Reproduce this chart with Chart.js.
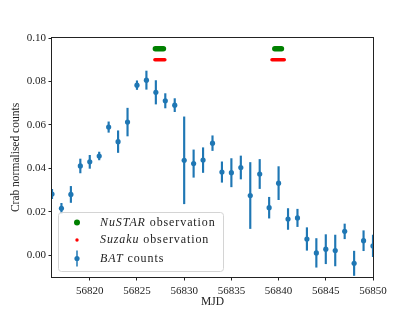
<!DOCTYPE html>
<html>
<head>
<meta charset="utf-8">
<script src="https://cdn.jsdelivr.net/npm/chart.js@4.4.1/dist/chart.umd.min.js"></script>
<style>
  body { margin: 0; background: #fff; }
  canvas { display: block; }
</style>
</head>
<body>
<canvas id="chart" width="415" height="312"></canvas>
<script>
// BAT daily light curve (Crab normalised)
const mjd = [56816, 56817, 56818, 56819, 56820, 56821, 56822, 56823, 56824, 56825,
             56826, 56827, 56828, 56829, 56830, 56831, 56832, 56833, 56834, 56835,
             56836, 56837, 56838, 56839, 56840, 56841, 56842, 56843, 56844, 56845,
             56846, 56847, 56848, 56849, 56850];
const counts = [0.0282, 0.0216, 0.0280, 0.0411, 0.0430, 0.0457, 0.0590, 0.0523, 0.0613, 0.0783,
                0.0806, 0.0750, 0.0711, 0.0691, 0.0437, 0.0422, 0.0438, 0.0516, 0.0383, 0.0380,
                0.0404, 0.0275, 0.0374, 0.0219, 0.0332, 0.0167, 0.0172, 0.0075, 0.0011, 0.0028,
                0.0022, 0.0110, -0.0037, 0.0067, 0.0043];
const countErr = [0.0022, 0.0023, 0.0037, 0.0032, 0.0030, 0.0018, 0.0024, 0.0050, 0.0064, 0.0020,
                  0.0042, 0.0054, 0.0033, 0.0030, 0.0200, 0.0063, 0.0057, 0.0034, 0.0047, 0.0065,
                  0.0053, 0.0152, 0.0067, 0.0048, 0.0076, 0.0048, 0.0040, 0.0052, 0.0066, 0.0067,
                  0.0071, 0.0034, 0.0056, 0.0046, 0.0050];

// observation windows
const nustarStart = [56826.95, 56839.6];
const nustarEnd = [56827.8, 56840.3];
const nustarLevel = 0.095;
const suzakuStart = [56826.9, 56839.3];
const suzakuEnd = [56827.95, 56840.6];
const suzakuLevel = 0.09;

const xTicks = [56820, 56825, 56830, 56835, 56840, 56845, 56850];
const yTicks = [0.00, 0.02, 0.04, 0.06, 0.08, 0.10];

const blue = '#1f77b4';

Chart.defaults.font.family = "'Liberation Serif', 'Times New Roman', serif";
Chart.defaults.font.size = 11;
Chart.defaults.color = '#222';

function windowSets(starts, ends, level, color, width) {
    return starts.map((s, i) => ({
        type: 'scatter',
        showLine: true,
        data: [{x: s, y: level}, {x: ends[i], y: level}],
        borderColor: color,
        borderWidth: width,
        borderCapStyle: 'round',
        pointRadius: 0,
        order: 2
    }));
}

// frame round the plot area (matplotlib style spines)
const framePlugin = {
    id: 'frame',
    afterDraw(chart) {
        const {ctx, chartArea: ca} = chart;
        ctx.save();
        ctx.strokeStyle = '#222';
        ctx.lineWidth = 1;
        ctx.strokeRect(ca.left - 0.5, ca.top - 0.5, ca.width + 1, ca.height + 1);
        ctx.restore();
    }
};

// legend box inside the plot, lower left
const legendPlugin = {
    id: 'obsLegend',
    afterDraw(chart) {
        const {ctx, chartArea: ca} = chart;
        const x0 = ca.left + 6.5, y0 = ca.bottom - 64.5, w = 165, h = 59;
        ctx.save();
        ctx.beginPath();
        ctx.roundRect(x0, y0, w, h, 3);
        ctx.fillStyle = 'rgba(255,255,255,0.8)';
        ctx.fill();
        ctx.strokeStyle = '#d4d4d4';
        ctx.lineWidth = 1;
        ctx.stroke();

        const mx = x0 + 18.5, tx = x0 + 41.5;
        const rows = [
            {y: y0 + 10, it: 'NuSTAR', rest: ' observation'},
            {y: y0 + 27.5, it: 'Suzaku', rest: ' observation'},
            {y: y0 + 46, it: 'BAT', rest: ' counts'}
        ];
        // markers
        ctx.fillStyle = 'green';
        ctx.beginPath(); ctx.arc(mx, rows[0].y, 3, 0, Math.PI * 2); ctx.fill();
        ctx.fillStyle = 'red';
        ctx.beginPath(); ctx.arc(mx, rows[1].y, 1.7, 0, Math.PI * 2); ctx.fill();
        ctx.strokeStyle = blue;
        ctx.lineWidth = 1.5;
        ctx.beginPath(); ctx.moveTo(mx, rows[2].y - 8); ctx.lineTo(mx, rows[2].y + 8); ctx.stroke();
        ctx.fillStyle = blue;
        ctx.beginPath(); ctx.arc(mx, rows[2].y, 2.6, 0, Math.PI * 2); ctx.fill();

        // labels
        ctx.fillStyle = '#222';
        ctx.textBaseline = 'middle';
        ctx.letterSpacing = '0.9px';
        rows.forEach(r => {
            ctx.font = "italic 12px 'Liberation Serif', serif";
            ctx.fillText(r.it, tx, r.y);
            const wi = ctx.measureText(r.it).width;
            ctx.font = "12px 'Liberation Serif', serif";
            ctx.fillText(r.rest, tx + wi, r.y);
        });
        ctx.restore();
    }
};

const ctx = document.getElementById('chart').getContext('2d');
const chart = new Chart(ctx, {
    type: 'scatter',
    data: {
        datasets: [
            {
                label: 'BAT counts',
                data: mjd.map((d, i) => ({x: d, y: counts[i]})),
                pointRadius: 2.6,
                pointBackgroundColor: blue,
                pointBorderWidth: 0,
                order: 0
            },
            {
                type: 'bar',
                label: 'BAT error',
                data: mjd.map((d, i) => ({x: d, y: [counts[i] - countErr[i], counts[i] + countErr[i]]})),
                backgroundColor: blue,
                barThickness: 1.5,
                order: 1
            },
            ...windowSets(nustarStart, nustarEnd, nustarLevel, 'green', 5.5),
            ...windowSets(suzakuStart, suzakuEnd, suzakuLevel, 'red', 3.5)
        ]
    },
    options: {
        responsive: false,
        animation: false,
        layout: { padding: { left: 0, top: 38, right: 42, bottom: 0 } },
        plugins: {
            legend: { display: false },
            tooltip: { enabled: false }
        },
        scales: {
            x: {
                type: 'linear',
                offset: false,
                min: 56816,
                max: 56850,
                afterBuildTicks: axis => { axis.ticks = xTicks.map(v => ({value: v})); },
                afterFit: scale => { scale.height = 35; },
                ticks: {
                    autoSkip: false,
                    maxRotation: 0,
                    padding: 4.5,
                    callback: v => String(v)
                },
                grid: { offset: false, drawOnChartArea: false, tickLength: 3.5, color: '#222' },
                border: { display: false },
                title: { display: true, text: 'MJD', font: { size: 11.5 }, padding: { top: 0, bottom: 3 } }
            },
            y: {
                min: -0.01,
                max: 0.10,
                afterBuildTicks: axis => { axis.ticks = yTicks.map(v => ({value: v})); },
                afterFit: scale => { scale.width = 52; },
                ticks: {
                    autoSkip: false,
                    padding: 2.5,
                    callback: v => v.toFixed(2)
                },
                grid: { drawOnChartArea: false, tickLength: 3.5, color: '#222' },
                border: { display: false },
                title: { display: true, text: 'Crab normalised counts', font: { size: 11.5 }, padding: { top: 9, bottom: 0 } }
            }
        }
    },
    plugins: [framePlugin, legendPlugin]
});
</script>
</body>
</html>
